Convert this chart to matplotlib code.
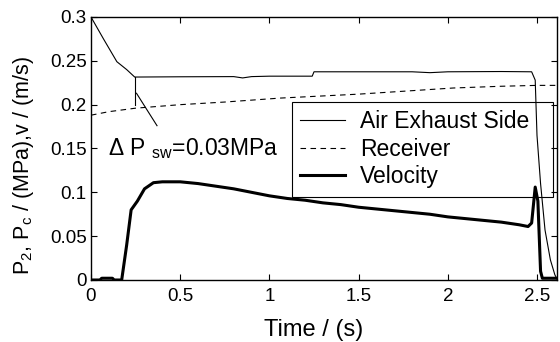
import matplotlib
matplotlib.use("Agg")
from matplotlib import pyplot as plt
from matplotlib.ticker import FuncFormatter

plt.rcParams['font.family'] = ['Liberation Sans', 'DejaVu Sans']
plt.rcParams['mathtext.fontset'] = 'custom'
plt.rcParams['mathtext.rm'] = 'Liberation Sans'
plt.rcParams['mathtext.it'] = 'Liberation Sans:italic'

# air exhaust side pressure P2 (MPa)
t_exh = [0.0, 0.07, 0.145, 0.2, 0.245, 0.5, 0.8, 0.85, 0.9, 1.0, 1.24, 1.25,
         1.6, 1.8, 1.9, 2.0, 2.3, 2.47, 2.49, 2.5, 2.52, 2.545, 2.575, 2.6, 2.615]
p_exh = [0.3, 0.275, 0.249, 0.24, 0.2315, 0.2318, 0.232, 0.2305, 0.232, 0.2325, 0.2325, 0.2375,
         0.2375, 0.2375, 0.2365, 0.2375, 0.2378, 0.2375, 0.228, 0.165, 0.11, 0.057, 0.023, 0.006, 0.0]

# receiver pressure Pc (MPa)
t_rec = [0.0, 0.1, 0.25, 0.5, 0.75, 1.06, 1.5, 2.03, 2.3, 2.5, 2.615]
p_rec = [0.188, 0.192, 0.196, 0.2, 0.203, 0.2075, 0.212, 0.219, 0.221, 0.222, 0.222]

# velocity v (m/s)
t_vel = [0.0, 0.05, 0.06, 0.12, 0.13, 0.172, 0.2, 0.225, 0.26, 0.3, 0.35, 0.4, 0.5,
         0.6, 0.7, 0.8, 0.9, 1.0, 1.1, 1.2, 1.3, 1.4, 1.5, 1.6, 1.7, 1.8, 1.9, 2.0,
         2.1, 2.2, 2.3, 2.4, 2.45, 2.47, 2.49, 2.505, 2.52, 2.53, 2.615]
v_vel = [0.0, 0.0, 0.002, 0.002, 0.0, 0.0, 0.04, 0.08, 0.09, 0.104, 0.111, 0.112, 0.112,
         0.11, 0.107, 0.104, 0.1, 0.096, 0.093, 0.091, 0.088, 0.086, 0.083, 0.081, 0.079,
         0.077, 0.075, 0.072, 0.07, 0.068, 0.066, 0.063, 0.061, 0.065, 0.106, 0.09, 0.01, 0.002, 0.002]

# delta P switching marker
t_mark = [0.245, 0.245]
p_mark = [0.2315, 0.2]
t_arrow = [0.255, 0.37]
p_arrow = [0.213, 0.176]

fig = plt.figure(figsize=(5.6, 3.42), dpi=100)
ax = fig.add_axes([0.1625, 0.1813, 0.8321, 0.769])

ax.plot(t_exh, p_exh, color='black', lw=0.8, label='Air Exhaust Side')
ax.plot(t_rec, p_rec, color='black', lw=0.8, ls=(0, (5, 4)), label='Receiver')
ax.plot(t_vel, v_vel, color='black', lw=2.2, label='Velocity')
ax.plot(t_mark, p_mark, color='black', lw=0.8)
ax.plot(t_arrow, p_arrow, color='black', lw=0.8)

ax.text(0.095, 0.142, r'$\Delta$ P $_{\mathrm{sw}}$=0.03MPa', fontsize=16.5)

ax.set_xlim(0, 2.612)
ax.set_ylim(0, 0.3)
ax.set_xticks([0, 0.5, 1, 1.5, 2, 2.5])
ax.set_yticks([0, 0.05, 0.1, 0.15, 0.2, 0.25, 0.3])
fmt = FuncFormatter(lambda v, p: '%g' % v)
ax.xaxis.set_major_formatter(fmt)
ax.yaxis.set_major_formatter(fmt)
ax.tick_params(direction='in', top=True, right=True, length=4, width=0.8,
               labelsize=13.5)
ax.tick_params(axis='x', pad=6)
ax.tick_params(axis='y', pad=3)
for s in ax.spines.values():
    s.set_linewidth(1.0)

ax.set_xlabel('Time / (s)', fontsize=17)
ax.set_ylabel(r'P$_\mathrm{2}$, P$_\mathrm{c}$ / (MPa),v / (m/s)', fontsize=15.5)
ax.xaxis.set_label_coords(0.478, -0.148)
ax.yaxis.set_label_coords(-0.118, 0.435)

leg = ax.legend(loc='upper left', bbox_to_anchor=(0.431, 0.316, 0.56, 0.361),
                mode='expand', fontsize=16.5, frameon=True, fancybox=False, framealpha=1,
                handlelength=1.96, borderpad=0.36, labelspacing=0.2, handletextpad=0.65,
                borderaxespad=0)
leg.get_frame().set_facecolor('none')
leg.get_frame().set_edgecolor('black')
leg.get_frame().set_linewidth(0.8)

plt.savefig('out.png', dpi=100)
